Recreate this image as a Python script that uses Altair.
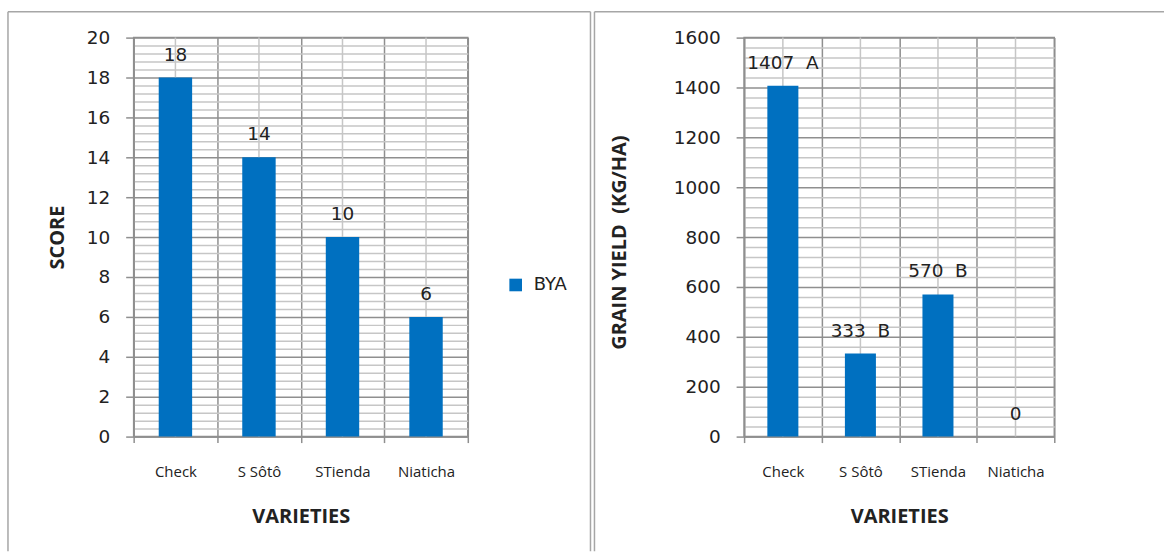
import altair as alt
import pandas as pd

# ---- data -------------------------------------------------------------
varieties = ["Check", "S Sôtô", "STienda", "Niaticha"]
scores = [18, 14, 10, 6]
yields = [1407, 333, 570, 0]
yield_groups = ["A", "B", "B", ""]
series_name = "BYA"

# ---- styling ----------------------------------------------------------
BAR = "#0070C0"
MAJOR = "#8f8f8f"
MINOR = "#c6c6c6"
FRAME = "#a6a6a6"
INK = "#222222"
NUM_FONT = "DejaVu Sans"
TXT_FONT = "Open Sans"
PLOT_H = 400

score_df = pd.DataFrame({
    "variety": varieties,
    "value": scores,
    "series": series_name,
    "label": [str(v) for v in scores],
})
yield_df = pd.DataFrame({
    "variety": varieties,
    "value": yields,
    "series": series_name,
    "label": [f"{v}\u00a0\u00a0{g}" if g else str(v) for v, g in zip(yields, yield_groups)],
})
one_row = pd.DataFrame({"k": [0]})


def frame_rules(left, right, top, bottom, draw_right):
    """Chart-area border drawn around a panel (pixel offsets from plot origin)."""
    base = alt.Chart(one_row)
    style = dict(color=FRAME, strokeWidth=1.5)
    parts = [
        base.mark_rule(**style).encode(x=alt.value(left), x2=alt.value(right), y=alt.value(top)),
        base.mark_rule(**style).encode(x=alt.value(left), y=alt.value(top), y2=alt.value(bottom)),
    ]
    if draw_right:
        parts.append(
            base.mark_rule(**style).encode(x=alt.value(right), y=alt.value(top), y2=alt.value(bottom))
        )
    return parts


def panel(df, top, major, minor, y_title, title_x, title_y, width,
          frame_left, frame_right, draw_right):
    n = int(round(top / minor))
    tick_vals = [round(i * minor, 6) for i in range(n + 1)]
    is_major = f"abs(datum.value / {major} - round(datum.value / {major})) < 1e-6"

    x_enc = alt.X(
        "variety:N",
        sort=varieties,
        scale=alt.Scale(paddingInner=0, paddingOuter=0),
        axis=alt.Axis(
            tickBand="extent", grid=True, gridColor=MAJOR, gridWidth=1.5,
            tickColor=MAJOR, tickSize=6, tickWidth=1.5,
            domainColor=MAJOR, domainWidth=1.5,
            labelAngle=0, labelFont=TXT_FONT, labelFontSize=15, labelColor=INK,
            labelPadding=22,
            title="VARIETIES", titleFont=TXT_FONT, titleFontSize=20,
            titleFontWeight="bold", titleColor=INK,
            titleBaseline="alphabetic", titleY=86,
        ),
    )
    y_enc = alt.Y(
        "value:Q",
        scale=alt.Scale(domain=[0, top], nice=False, zero=True),
        axis=alt.Axis(
            values=tick_vals, grid=True,
            gridColor={"condition": {"test": is_major, "value": MAJOR}, "value": MINOR},
            gridWidth=1.5,
            tickOpacity={"condition": {"test": is_major, "value": 1}, "value": 0},
            tickColor=MAJOR, tickSize=8, tickWidth=1.5,
            domainColor=MAJOR, domainWidth=1.5,
            labelExpr=f"{is_major} ? format(datum.value, 'd') : ''",
            labelOverlap=False, labelFont=NUM_FONT, labelFontSize=18.5,
            labelColor=INK, labelPadding=16,
            title=y_title, titleFont=TXT_FONT, titleFontSize=20,
            titleFontWeight="bold", titleColor=INK,
            titleAngle=270, titleAlign="center", titleBaseline="alphabetic",
            titleX=title_x, titleY=title_y,
        ),
    )

    base = alt.Chart(df)

    # light vertical lines through the middle of each category
    centre_lines = base.mark_rule(color=MINOR, strokeWidth=1.5).encode(x=x_enc)

    bars = base.mark_bar(color=BAR, width=alt.RelativeBandSize(0.4)).encode(
        x=x_enc,
        y=y_enc,
        color=alt.Color(
            "series:N",
            scale=alt.Scale(range=[BAR]),
            legend=alt.Legend(
                title=None, orient="none", legendX=width + 39, legendY=239,
                symbolType="square", symbolSize=160, symbolStrokeWidth=0,
                symbolFillColor=BAR, labelFont=NUM_FONT, labelFontSize=18,
                labelColor=INK, labelOffset=9, padding=0,
            ),
        ),
    )

    labels = base.mark_text(
        font=NUM_FONT, fontSize=18.5, color=INK, align="center",
        baseline="alphabetic", dy=-17,
    ).encode(x=x_enc, y=y_enc, text="label:N")

    layers = frame_rules(frame_left, frame_right, -26, 515, draw_right)
    layers += [centre_lines, bars, labels]
    return alt.layer(*layers).properties(width=width, height=PLOT_H)


left = panel(score_df, 20, 2, 0.4, "SCORE", -70, 200, 335,
             frame_left=-126, frame_right=458, draw_right=True)
right = panel(yield_df, 1600, 200, 40, "GRAIN YIELD\u00a0 (KG/HA)", -119, 205, 311,
              frame_left=-150, frame_right=421, draw_right=False)

chart = (
    alt.hconcat(left, right, spacing=0)
    .properties(padding={"left": 6, "top": 9, "right": 0, "bottom": 0}, background="white")
    .configure_view(stroke=MAJOR, strokeWidth=1.5)
)

chart.save("out.html", embed_options={"renderer": "svg", "actions": False})
